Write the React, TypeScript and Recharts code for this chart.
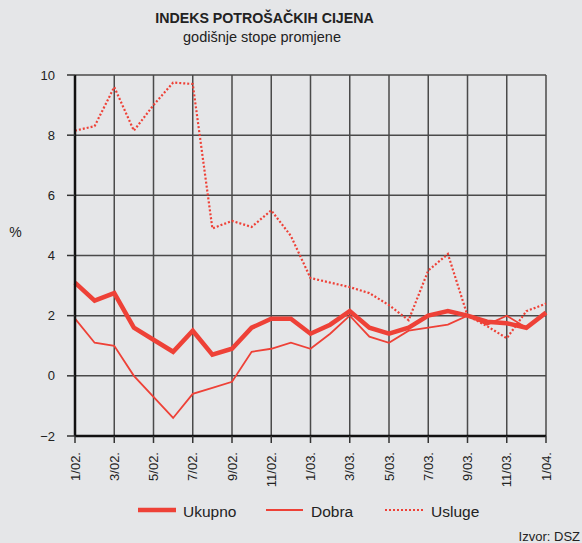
import React from "react";
import { LineChart, Line, XAxis, YAxis, CartesianGrid } from "recharts";

const months = [
  "1/02.", "2/02.", "3/02.", "4/02.", "5/02.", "6/02.", "7/02.", "8/02.", "9/02.", "10/02.", "11/02.", "12/02.",
  "1/03.", "2/03.", "3/03.", "4/03.", "5/03.", "6/03.", "7/03.", "8/03.", "9/03.", "10/03.", "11/03.", "12/03.",
  "1/04.",
];
const ukupno = [3.1, 2.5, 2.75, 1.6, 1.2, 0.8, 1.5, 0.7, 0.9, 1.6, 1.9, 1.9, 1.4, 1.7, 2.15, 1.6, 1.4, 1.6, 2.0, 2.15, 2.0, 1.8, 1.75, 1.6, 2.1];
const dobra = [1.9, 1.1, 1.0, 0.0, -0.7, -1.4, -0.6, -0.4, -0.2, 0.8, 0.9, 1.1, 0.9, 1.4, 2.0, 1.3, 1.1, 1.5, 1.6, 1.7, 2.0, 1.7, 2.0, 1.6, 2.1];
const usluge = [8.15, 8.3, 9.6, 8.15, 9.0, 9.75, 9.7, 4.9, 5.15, 4.95, 5.5, 4.65, 3.25, 3.1, 2.95, 2.75, 2.35, 1.85, 3.5, 4.05, 2.0, 1.65, 1.25, 2.15, 2.4];
const yTicks = [-2, 0, 2, 4, 6, 8, 10];
const xTicks = months.filter((_, i) => i % 2 === 0);

const data = months.map((m, i) => ({ month: m, ukupno: ukupno[i], dobra: dobra[i], usluge: usluge[i] }));

const RED = "#ee4137";
const FONT = "'Liberation Sans', Arial, Helvetica, sans-serif";

const XTick = (props: any) => {
  const { x, y, payload } = props;
  return (
    <text
      x={x + 4.6}
      y={y + 7}
      transform={`rotate(-90, ${x + 4.6}, ${y + 7})`}
      textAnchor="end"
      fontFamily={FONT}
      fontSize={13}
      fill="#222"
    >
      {payload.value}
    </text>
  );
};

export default function App() {
  return (
    <div style={{ position: "absolute", left: 0, top: 0, width: 582, height: 543, background: "#e5e6e8", overflow: "hidden" }}>
      <svg width={582} height={543} style={{ position: "absolute", left: 0, top: 0 }}>
        <text x={264.5} y={23} textAnchor="middle" fontFamily={FONT} fontSize={14.2} fontWeight="bold" fill="#222">
          INDEKS POTROŠAČKIH CIJENA
        </text>
        <text x={262} y={42} textAnchor="middle" fontFamily={FONT} fontSize={14.5} fill="#222">
          godišnje stope promjene
        </text>
        <text x={15.5} y={237} textAnchor="middle" fontFamily={FONT} fontSize={14} fill="#222">
          %
        </text>
        <line x1={138} x2={176} y1={510} y2={510} stroke={RED} strokeWidth={4.5} />
        <text x={183} y={516.5} fontFamily={FONT} fontSize={15.5} fill="#222">Ukupno</text>
        <line x1={266} x2={303} y1={510} y2={510} stroke={RED} strokeWidth={1.8} />
        <text x={311} y={516.5} fontFamily={FONT} fontSize={15.5} fill="#222">Dobra</text>
        <line x1={385} x2={423} y1={510} y2={510} stroke={RED} strokeWidth={2.2} strokeDasharray="2 2" />
        <text x={431} y={516.5} fontFamily={FONT} fontSize={15.5} fill="#222">Usluge</text>
        <text x={580} y={541} textAnchor="end" fontFamily={FONT} fontSize={13} fill="#222">Izvor: DSZ</text>
      </svg>
      <div style={{ position: "absolute", left: 0, top: 0 }}>
        <LineChart width={582} height={543} data={data} margin={{ top: 75, right: 36, left: 0, bottom: 0 }}>
          <CartesianGrid stroke="#4a4a4a" strokeWidth={1.5} />
          <XAxis
            dataKey="month"
            ticks={xTicks}
            interval={0}
            height={107}
            tickSize={7}
            tick={<XTick />}
            axisLine={{ stroke: "#111", strokeWidth: 2.5 }}
            tickLine={{ stroke: "#333", strokeWidth: 1.5 }}
          />
          <YAxis
            domain={[-2, 10]}
            ticks={yTicks}
            width={75}
            tickSize={8}
            tickMargin={12}
            interval={0}
            tick={{ fontFamily: FONT, fontSize: 13, fill: "#222" }}
            tickFormatter={(v: number) => (v < 0 ? `\u2212${Math.abs(v)}` : `${v}`)}
            axisLine={{ stroke: "#111", strokeWidth: 2.5 }}
            tickLine={{ stroke: "#333", strokeWidth: 1.5 }}
          />
          <Line type="linear" dataKey="usluge" stroke={RED} strokeWidth={2.2} strokeDasharray="2 2" dot={false} isAnimationActive={false} />
          <Line type="linear" dataKey="dobra" stroke={RED} strokeWidth={1.8} dot={false} isAnimationActive={false} />
          <Line type="linear" dataKey="ukupno" stroke={RED} strokeWidth={4.5} dot={false} isAnimationActive={false} />
        </LineChart>
      </div>
    </div>
  );
}
